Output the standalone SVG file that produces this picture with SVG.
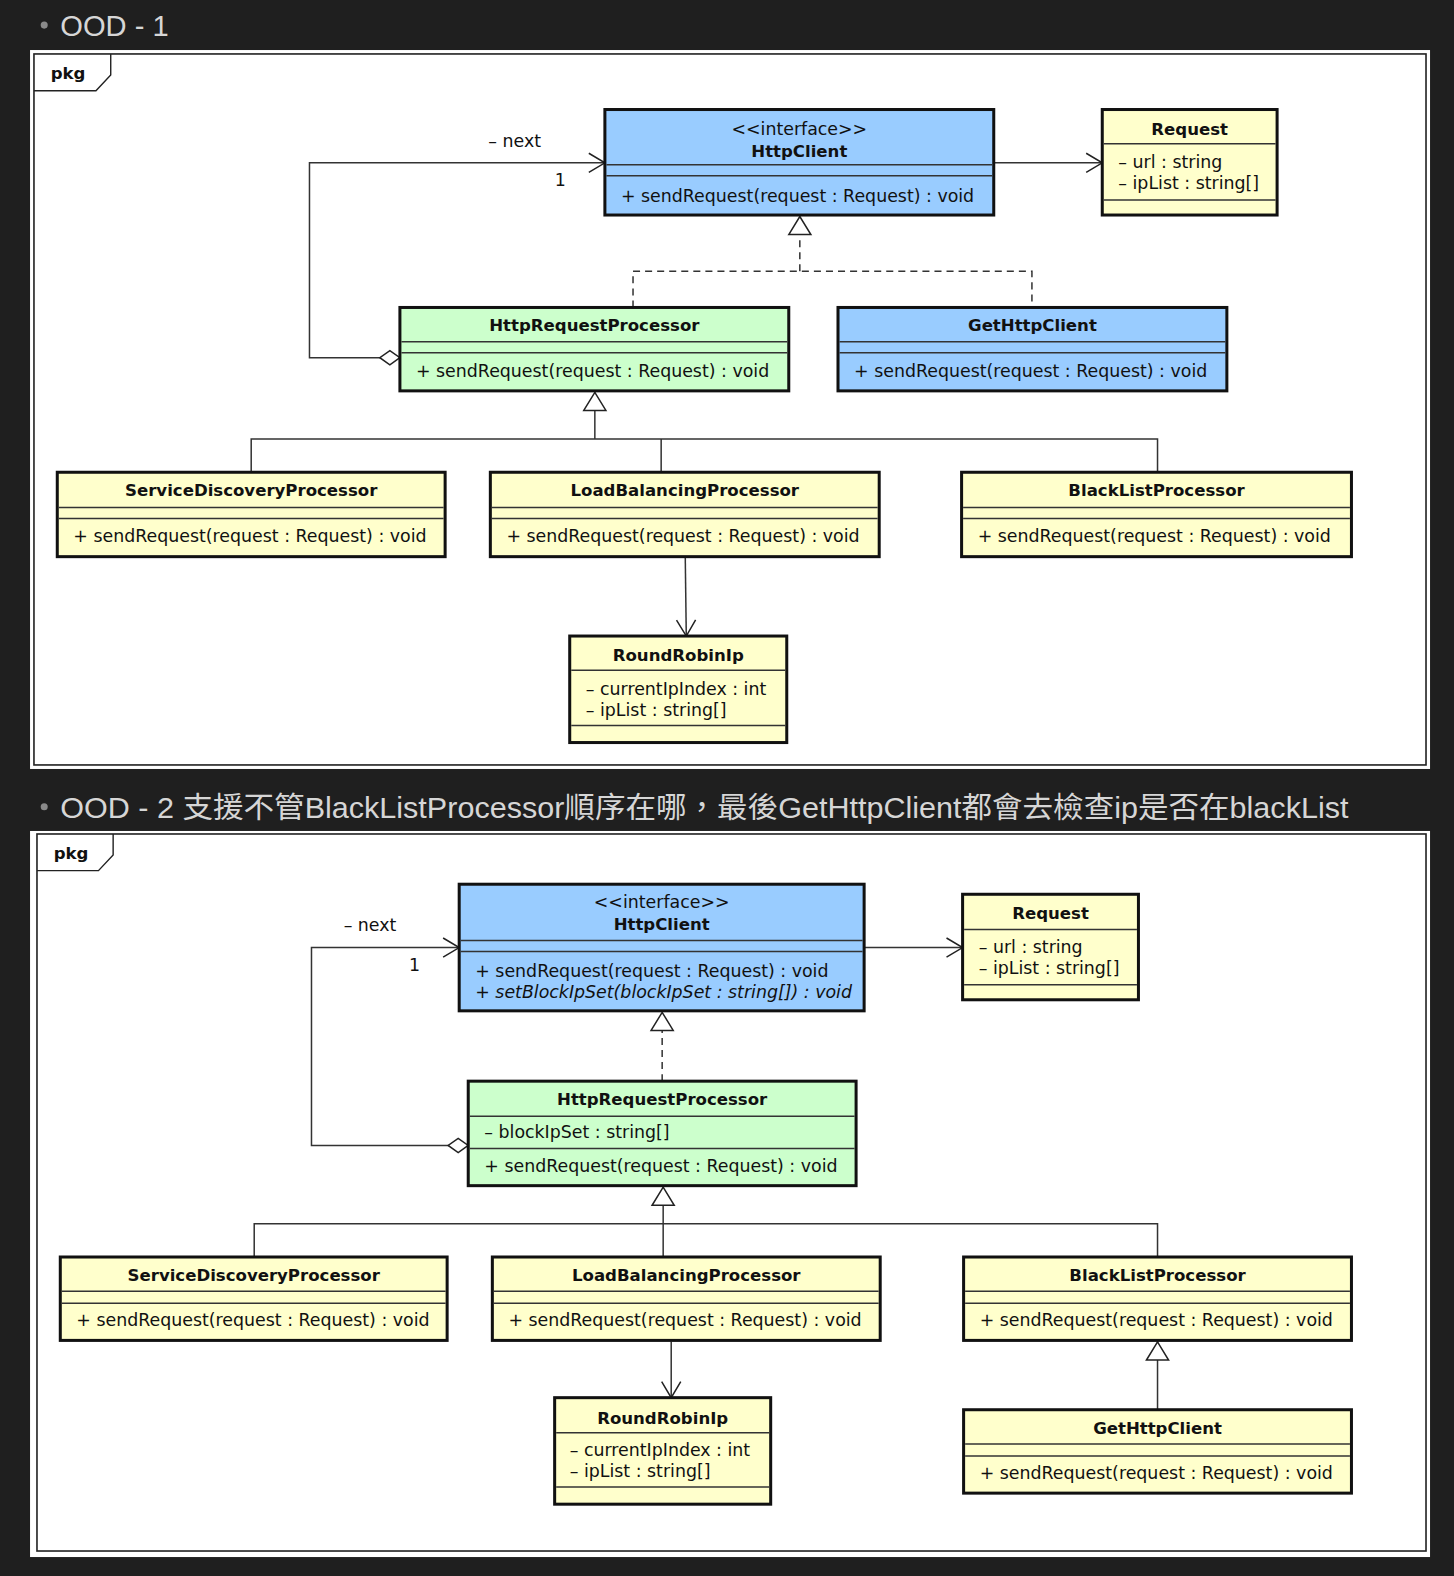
<svg xmlns="http://www.w3.org/2000/svg" width="1454" height="1576" viewBox="0 0 1454 1576">
<style>
.bg{fill:#1f1f1f}
.panel{fill:#ffffff}
.frame{fill:none;stroke:#222;stroke-width:1.6}
.tab{fill:none;stroke:#222;stroke-width:1.4}
.h{font-family:"Liberation Sans","Noto Sans CJK TC",sans-serif;font-size:29px;fill:#d6d6d6}
.dot{fill:#8a8a8a}
.box{stroke:#111;stroke-width:3}
.blue{fill:#99ccff}
.green{fill:#ccffcc}
.yellow{fill:#ffffcc}
.sep{stroke:#333;stroke-width:1.5}
.t{font-family:"DejaVu Sans",sans-serif;font-size:17.3px;fill:#111}
.b{font-family:"DejaVu Sans",sans-serif;font-size:16.5px;font-weight:bold;fill:#111}
.c{text-anchor:middle}
.it{font-style:italic}
.ln{fill:none;stroke:#333;stroke-width:1.5}
.dash{stroke-dasharray:7 5}
</style>
<defs>
<marker id="open" markerUnits="userSpaceOnUse" markerWidth="20" markerHeight="22" refX="16" refY="10" orient="auto" overflow="visible">
<path d="M0,0.5 L16,10 L0,19.5" fill="none" stroke="#222" stroke-width="1.5"/>
</marker>
<marker id="tri" markerUnits="userSpaceOnUse" markerWidth="22" markerHeight="24" refX="18" refY="11" orient="auto" overflow="visible">
<path d="M0,0 L18,11 L0,22 Z" fill="#fff" stroke="#222" stroke-width="1.5"/>
</marker>
<marker id="dia" markerUnits="userSpaceOnUse" markerWidth="22" markerHeight="16" refX="0" refY="7" orient="auto" overflow="visible">
<path d="M0,7 L10,0 L20,7 L10,14 Z" fill="#fff" stroke="#222" stroke-width="1.5"/>
</marker>
</defs>
<rect class="bg" x="0" y="0" width="1454" height="1576"/>
<g transform="scale(1.0048)">
<!-- Headings -->
<g id="heading1">
<circle class="dot" cx="44" cy="25" r="3.5"/>
<text class="h" x="60" y="36">OOD - 1</text>
</g>
<g id="heading2">
<circle class="dot" cx="44" cy="803" r="3.5"/>
<text class="h" x="60" y="814" textLength="1282" lengthAdjust="spacingAndGlyphs">OOD - 2 支援不管BlackListProcessor順序在哪，最後GetHttpClient都會去檢查ip是否在blackList</text>
</g>

<!-- Panel 1 -->
<g id="panel1">
<rect class="panel" x="29.9" y="49.8" width="1393.3" height="715.5"/>
<rect class="frame" x="33.8" y="53.7" width="1385.4" height="707.6"/>
<path class="tab" d="M33.8,90.3 H95.5 L110.2,74.6 V53.7"/>
<text class="b" x="50.5" y="79">pkg</text>
</g>

<g id="connectors1">
<path class="ln" d="M398,356 H308 V162 H602" marker-start="url(#dia)" marker-end="url(#open)"/>
<text class="t" x="486" y="146">– next</text>
<text class="t" x="552" y="185">1</text>
<path class="ln" d="M989,162 H1097" marker-end="url(#open)"/>
<path class="ln dash" d="M796,270 V215.5" marker-end="url(#tri)"/>
<path class="ln dash" d="M630,306 V270 H1027 V306"/>
<path class="ln" d="M592,437 V390.5" marker-end="url(#tri)"/>
<path class="ln" d="M250,470 V437 H1152 V470 M658,437 V470"/>
<path class="ln" d="M682,555 L683,633" marker-end="url(#open)"/>
</g>

<g id="p1-HttpClient">
<rect class="box blue" x="602" y="109" width="387" height="105"/>
<line class="sep" x1="603.5" y1="164" x2="987.5" y2="164"/>
<line class="sep" x1="603.5" y1="175" x2="987.5" y2="175"/>
<text class="t c" x="795.5" y="134">&lt;&lt;interface&gt;&gt;</text>
<text class="b c" x="795.5" y="156">HttpClient</text>
<text class="t" x="618" y="201">+ sendRequest(request : Request) : void</text>
</g>
<g id="p1-Request">
<rect class="box yellow" x="1097" y="109" width="174" height="105"/>
<line class="sep" x1="1098.5" y1="143" x2="1269.5" y2="143"/>
<line class="sep" x1="1098.5" y1="199" x2="1269.5" y2="199"/>
<text class="b c" x="1184" y="134">Request</text>
<text class="t" x="1113" y="167">– url : string</text>
<text class="t" x="1113" y="188">– ipList : string[]</text>
</g>
<g id="p1-HttpRequestProcessor">
<rect class="box green" x="398" y="306" width="387" height="83"/>
<line class="sep" x1="399.5" y1="340" x2="783.5" y2="340"/>
<line class="sep" x1="399.5" y1="351" x2="783.5" y2="351"/>
<text class="b c" x="591.5" y="329">HttpRequestProcessor</text>
<text class="t" x="414" y="375">+ sendRequest(request : Request) : void</text>
</g>
<g id="p1-GetHttpClient">
<rect class="box blue" x="834" y="306" width="387" height="83"/>
<line class="sep" x1="835.5" y1="340" x2="1219.5" y2="340"/>
<line class="sep" x1="835.5" y1="351" x2="1219.5" y2="351"/>
<text class="b c" x="1027.5" y="329">GetHttpClient</text>
<text class="t" x="850" y="375">+ sendRequest(request : Request) : void</text>
</g>
<g id="p1-ServiceDiscoveryProcessor">
<rect class="box yellow" x="57" y="470" width="386" height="84"/>
<line class="sep" x1="58.5" y1="505" x2="441.5" y2="505"/>
<line class="sep" x1="58.5" y1="516" x2="441.5" y2="516"/>
<text class="b c" x="250" y="494">ServiceDiscoveryProcessor</text>
<text class="t" x="73" y="539">+ sendRequest(request : Request) : void</text>
</g>
<g id="p1-LoadBalancingProcessor">
<rect class="box yellow" x="488" y="470" width="387" height="84"/>
<line class="sep" x1="489.5" y1="505" x2="873.5" y2="505"/>
<line class="sep" x1="489.5" y1="516" x2="873.5" y2="516"/>
<text class="b c" x="681.5" y="494">LoadBalancingProcessor</text>
<text class="t" x="504" y="539">+ sendRequest(request : Request) : void</text>
</g>
<g id="p1-BlackListProcessor">
<rect class="box yellow" x="957" y="470" width="388" height="84"/>
<line class="sep" x1="958.5" y1="505" x2="1343.5" y2="505"/>
<line class="sep" x1="958.5" y1="516" x2="1343.5" y2="516"/>
<text class="b c" x="1151" y="494">BlackListProcessor</text>
<text class="t" x="973" y="539">+ sendRequest(request : Request) : void</text>
</g>
<g id="p1-RoundRobinIp">
<rect class="box yellow" x="567" y="633" width="216" height="106"/>
<line class="sep" x1="568.5" y1="667" x2="781.5" y2="667"/>
<line class="sep" x1="568.5" y1="722" x2="781.5" y2="722"/>
<text class="b c" x="675" y="658">RoundRobinIp</text>
<text class="t" x="583" y="692">– currentIpIndex : int</text>
<text class="t" x="583" y="713">– ipList : string[]</text>
</g>

<!-- Panel 2 -->
<g id="panel2">
<rect class="panel" x="29.9" y="827" width="1393.3" height="722.6"/>
<rect class="frame" x="36.8" y="830" width="1382.4" height="713.6"/>
<path class="tab" d="M36.8,866.5 H98 L112.6,851 V830"/>
<text class="b" x="53.5" y="855">pkg</text>
</g>

<g id="connectors2">
<path class="ln" d="M466,1140 H310 V943 H457" marker-start="url(#dia)" marker-end="url(#open)"/>
<text class="t" x="342" y="927">– next</text>
<text class="t" x="407" y="966">1</text>
<path class="ln" d="M860,943 H958" marker-end="url(#open)"/>
<path class="ln dash" d="M659,1076 V1007.5" marker-end="url(#tri)"/>
<path class="ln" d="M660,1218 V1181.5" marker-end="url(#tri)"/>
<path class="ln" d="M253,1251 V1218 H1152 V1251 M660,1218 V1251"/>
<path class="ln" d="M668,1335 V1391" marker-end="url(#open)"/>
<path class="ln" d="M1152,1403 V1335.5" marker-end="url(#tri)"/>
</g>

<g id="p2-HttpClient">
<rect class="box blue" x="457" y="880" width="403" height="126"/>
<line class="sep" x1="458.5" y1="936" x2="858.5" y2="936"/>
<line class="sep" x1="458.5" y1="947" x2="858.5" y2="947"/>
<text class="t c" x="658.5" y="904">&lt;&lt;interface&gt;&gt;</text>
<text class="b c" x="658.5" y="926">HttpClient</text>
<text class="t" x="473" y="972">+ sendRequest(request : Request) : void</text>
<text class="t it" x="473" y="993">+ setBlockIpSet(blockIpSet : string[]) : void</text>
</g>
<g id="p2-Request">
<rect class="box yellow" x="958" y="890" width="175" height="105"/>
<line class="sep" x1="959.5" y1="925" x2="1131.5" y2="925"/>
<line class="sep" x1="959.5" y1="980" x2="1131.5" y2="980"/>
<text class="b c" x="1045.5" y="915">Request</text>
<text class="t" x="974" y="948">– url : string</text>
<text class="t" x="974" y="969">– ipList : string[]</text>
</g>
<g id="p2-HttpRequestProcessor">
<rect class="box green" x="466" y="1076" width="386" height="104"/>
<line class="sep" x1="467.5" y1="1111" x2="850.5" y2="1111"/>
<line class="sep" x1="467.5" y1="1143" x2="850.5" y2="1143"/>
<text class="b c" x="659" y="1100">HttpRequestProcessor</text>
<text class="t" x="482" y="1133">– blockIpSet : string[]</text>
<text class="t" x="482" y="1166">+ sendRequest(request : Request) : void</text>
</g>
<g id="p2-ServiceDiscoveryProcessor">
<rect class="box yellow" x="60" y="1251" width="385" height="83"/>
<line class="sep" x1="61.5" y1="1285" x2="443.5" y2="1285"/>
<line class="sep" x1="61.5" y1="1297" x2="443.5" y2="1297"/>
<text class="b c" x="252.5" y="1275">ServiceDiscoveryProcessor</text>
<text class="t" x="76" y="1320">+ sendRequest(request : Request) : void</text>
</g>
<g id="p2-LoadBalancingProcessor">
<rect class="box yellow" x="490" y="1251" width="386" height="83"/>
<line class="sep" x1="491.5" y1="1285" x2="874.5" y2="1285"/>
<line class="sep" x1="491.5" y1="1297" x2="874.5" y2="1297"/>
<text class="b c" x="683" y="1275">LoadBalancingProcessor</text>
<text class="t" x="506" y="1320">+ sendRequest(request : Request) : void</text>
</g>
<g id="p2-BlackListProcessor">
<rect class="box yellow" x="959" y="1251" width="386" height="83"/>
<line class="sep" x1="960.5" y1="1285" x2="1343.5" y2="1285"/>
<line class="sep" x1="960.5" y1="1297" x2="1343.5" y2="1297"/>
<text class="b c" x="1152" y="1275">BlackListProcessor</text>
<text class="t" x="975" y="1320">+ sendRequest(request : Request) : void</text>
</g>
<g id="p2-RoundRobinIp">
<rect class="box yellow" x="552" y="1391" width="215" height="106"/>
<line class="sep" x1="553.5" y1="1426" x2="765.5" y2="1426"/>
<line class="sep" x1="553.5" y1="1480" x2="765.5" y2="1480"/>
<text class="b c" x="659.5" y="1417">RoundRobinIp</text>
<text class="t" x="567" y="1449">– currentIpIndex : int</text>
<text class="t" x="567" y="1470">– ipList : string[]</text>
</g>
<g id="p2-GetHttpClient">
<rect class="box yellow" x="959" y="1403" width="386" height="83"/>
<line class="sep" x1="960.5" y1="1437" x2="1343.5" y2="1437"/>
<line class="sep" x1="960.5" y1="1449" x2="1343.5" y2="1449"/>
<text class="b c" x="1152" y="1427">GetHttpClient</text>
<text class="t" x="975" y="1472">+ sendRequest(request : Request) : void</text>
</g>
</g>
</svg>
